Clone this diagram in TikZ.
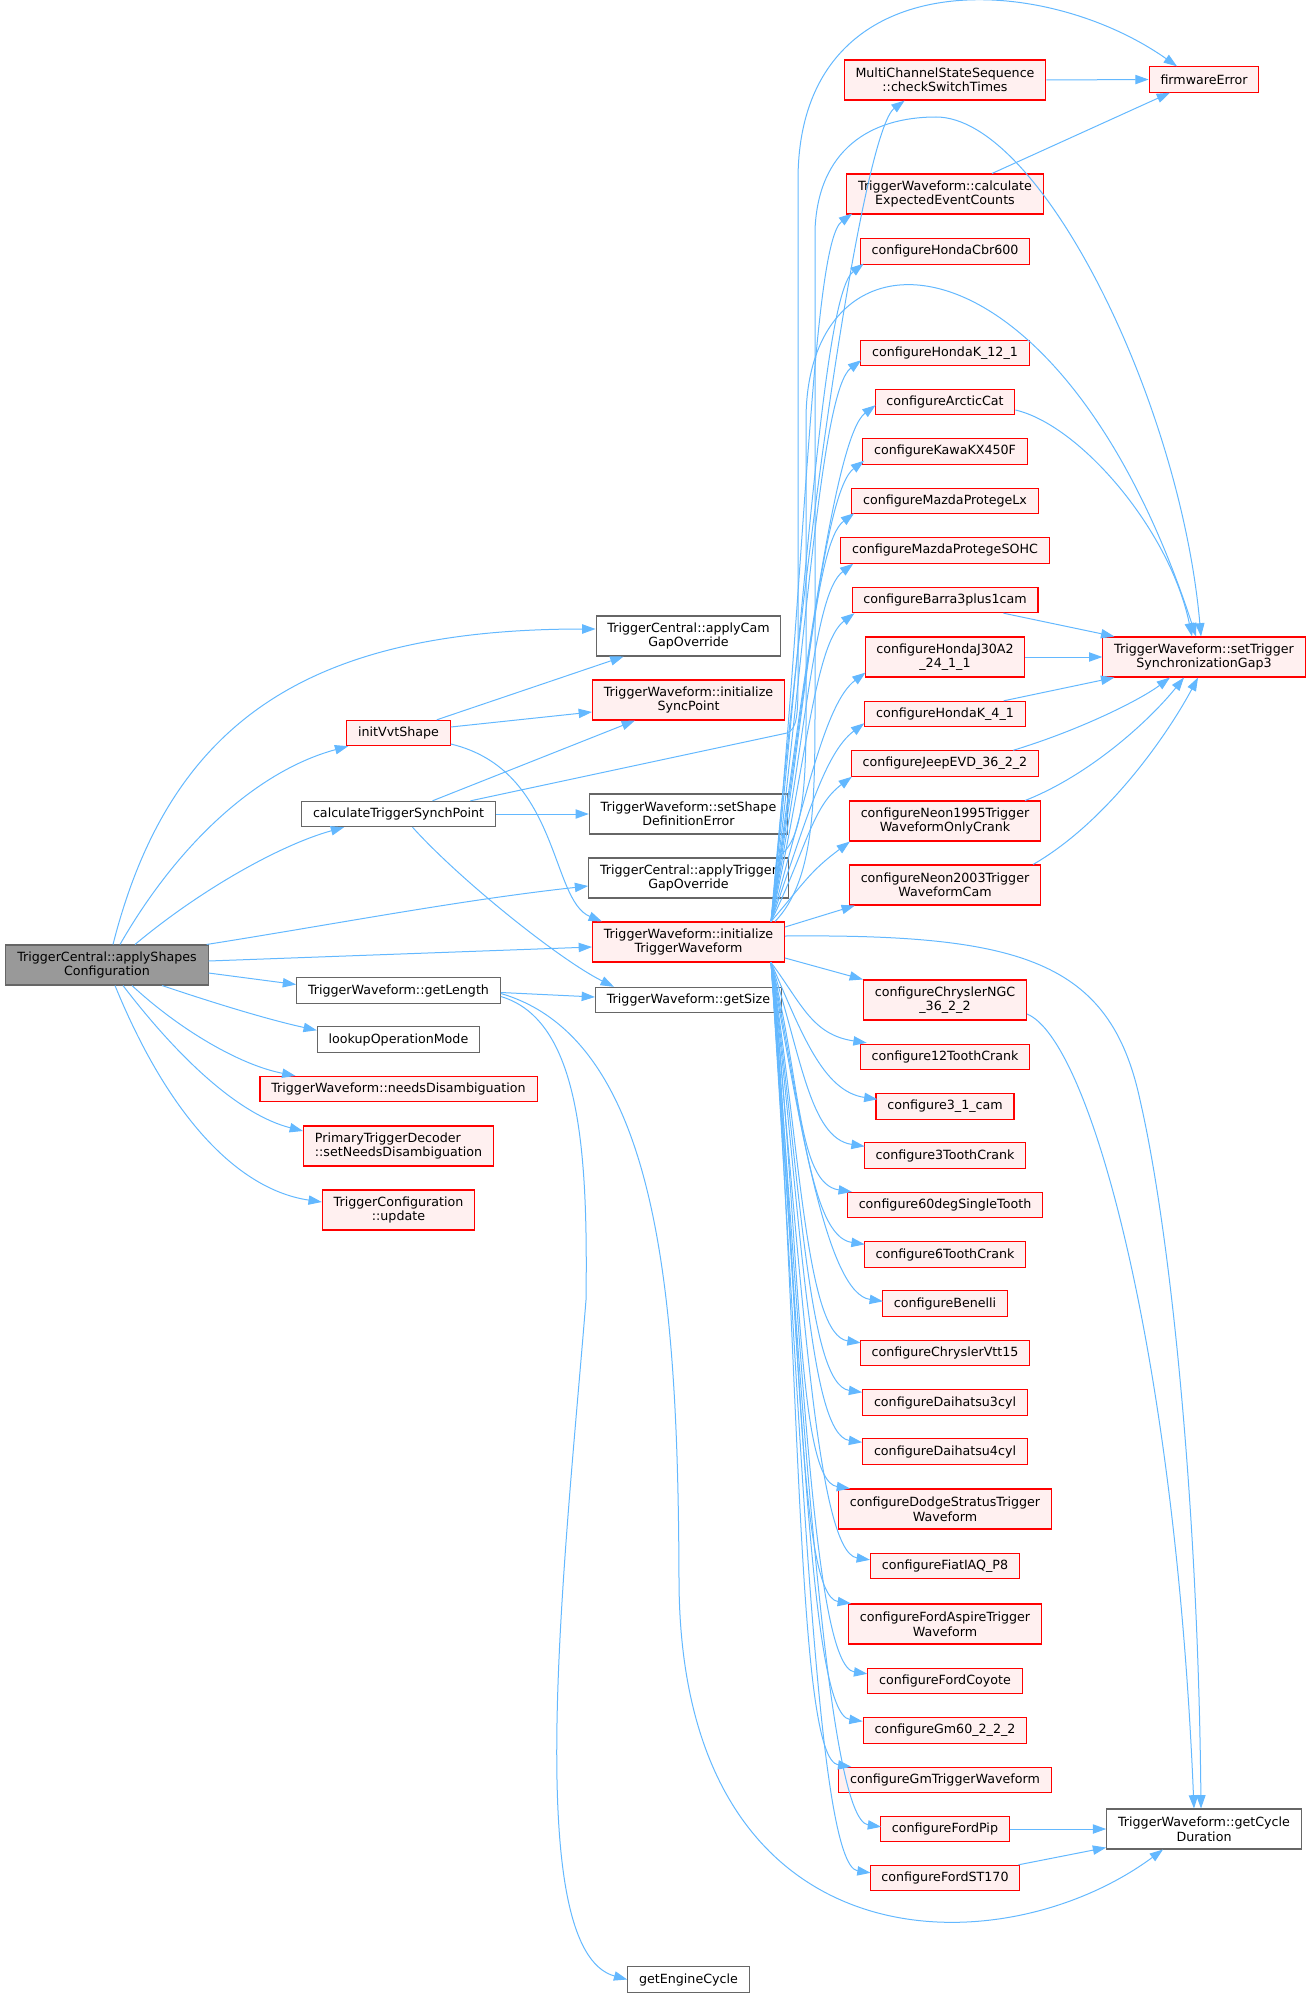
\documentclass[tikz,border=0pt]{standalone}
\usepackage{fontspec}
\setmainfont{DejaVu Sans}
\usetikzlibrary{arrows.meta,calc}
\definecolor{edgeblue}{HTML}{63B8FF}
\definecolor{redborder}{HTML}{FF0000}
\definecolor{redfill}{HTML}{FFF0F0}
\definecolor{greyborder}{HTML}{666666}
\definecolor{rootfill}{HTML}{999999}
\tikzset{
  fn/.style={draw=greyborder, fill=white, line width=0.8pt, inner xsep=8.5pt, inner ysep=2pt,
    minimum height=19pt, font=\fontsize{9.5}{10.9}\selectfont, align=center},
  fnred/.style={fn, draw=redborder, fill=redfill},
  fnroot/.style={fn, fill=rootfill},
  tall/.style={minimum height=30pt},
  calls/.style={draw=edgeblue, line width=0.75pt, -{Triangle[length=10pt,width=7pt]}}
}
\begin{document}
\begin{tikzpicture}[x=0.75pt,y=-0.75pt]
        \useasboundingbox (0,0) rectangle (1312,1998);
        % callers
        \node[fnroot,tall] (root) at (107,965) {TriggerCentral::applyShapes\\Configuration};
        \node[fnred] (initVvt) at (398.5,733) {initVvtShape};
        \node[fn] (calc) at (398.5,814) {calculateTriggerSynchPoint};
        \node[fn] (getLength) at (398.5,990.5) {TriggerWaveform::getLength};
        \node[fn] (lookup) at (398.5,1039.5) {lookupOperationMode};
        \node[fnred] (needsDis) at (398.5,1089) {TriggerWaveform::needsDisambiguation};
        \node[fnred,tall,align=left] (primary) at (398.5,1146) {PrimaryTriggerDecoder\\::setNeedsDisambiguation};
        \node[fnred,tall] (tconf) at (398.5,1210) {TriggerConfiguration\\::update};
        \node[fn,tall] (applyCam) at (688.5,636) {TriggerCentral::applyCam\\GapOverride};
        \node[fnred,tall] (initSync) at (688.5,700) {TriggerWaveform::initialize\\SyncPoint};
        \node[fn,tall] (setShape) at (688.5,814) {TriggerWaveform::setShape\\DefinitionError};
        \node[fn,tall] (applyTrig) at (688.5,878) {TriggerCentral::applyTrigger\\GapOverride};
        \node[fnred,tall] (initTW) at (688.5,942) {TriggerWaveform::initialize\\TriggerWaveform};
        \node[fn] (getSize) at (688.5,1000) {TriggerWaveform::getSize};
        \node[fn] (getEngine) at (688.5,1979.5) {getEngineCycle};
        % configure column
        \node[fnred,tall] (checkSwitch) at (945,80) {MultiChannelStateSequence\\::checkSwitchTimes};
        \node[fnred,tall] (calcExp) at (945,194) {TriggerWaveform::calculate\\ExpectedEventCounts};
        \node[fnred] (hondaCbr) at (945,251.5) {configureHondaCbr600};
        \node[fnred] (hondaK12) at (945,353) {configureHondaK\_12\_1};
        \node[fnred] (arctic) at (945,402) {configureArcticCat};
        \node[fnred] (kawa) at (945,451.5) {configureKawaKX450F};
        \node[fnred] (mazdaLx) at (945,501) {configureMazdaProtegeLx};
        \node[fnred] (mazdaSOHC) at (945,550.5) {configureMazdaProtegeSOHC};
        \node[fnred] (barra) at (945,600) {configureBarra3plus1cam};
        \node[fnred,tall] (hondaJ30) at (945,657) {configureHondaJ30A2\\\_24\_1\_1};
        \node[fnred] (hondaK41) at (945,714) {configureHondaK\_4\_1};
        \node[fnred] (jeep) at (945,763.5) {configureJeepEVD\_36\_2\_2};
        \node[fnred,tall] (neon1995) at (945,821) {configureNeon1995Trigger\\WaveformOnlyCrank};
        \node[fnred,tall] (neon2003) at (945,885) {configureNeon2003Trigger\\WaveformCam};
        \node[fnred,tall] (chryslerNGC) at (945,1000) {configureChryslerNGC\\\_36\_2\_2};
        \node[fnred] (t12) at (945,1057) {configure12ToothCrank};
        \node[fnred] (cam31) at (945,1106.5) {configure3\_1\_cam};
        \node[fnred] (t3) at (945,1155.5) {configure3ToothCrank};
        \node[fnred] (deg60) at (945,1205) {configure60degSingleTooth};
        \node[fnred] (t6) at (945,1254.5) {configure6ToothCrank};
        \node[fnred] (benelli) at (945,1303.5) {configureBenelli};
        \node[fnred] (vtt15) at (945,1353) {configureChryslerVtt15};
        \node[fnred] (daih3) at (945,1402.5) {configureDaihatsu3cyl};
        \node[fnred] (daih4) at (945,1451.5) {configureDaihatsu4cyl};
        \node[fnred,tall] (dodge) at (945,1509) {configureDodgeStratusTrigger\\Waveform};
        \node[fnred] (fiat) at (945,1566) {configureFiatIAQ\_P8};
        \node[fnred,tall] (aspire) at (945,1624) {configureFordAspireTrigger\\Waveform};
        \node[fnred] (coyote) at (945,1681) {configureFordCoyote};
        \node[fnred] (gm60) at (945,1730.5) {configureGm60\_2\_2\_2};
        \node[fnred] (gmTW) at (945,1780) {configureGmTriggerWaveform};
        \node[fnred] (fordPip) at (945,1829) {configureFordPip};
        \node[fnred] (st170) at (945,1878) {configureFordST170};
        % leaves
        \node[fnred] (fwError) at (1204,79.5) {firmwareError};
        \node[fnred,tall] (setGap3) at (1204,657) {TriggerWaveform::setTrigger\\SynchronizationGap3};
        \node[fn,tall] (cycleDur) at (1204,1829) {TriggerWaveform::getCycle\\Duration};
        % from the root
        \draw[calls] ($(root.north)+(6,0)$) .. controls (170,720) and (310,629) .. ($(applyCam.west)+(0,-7)$);
        \draw[calls] ($(root.north)+(13,0)$) .. controls (180,840) and (260,770) .. ($(initVvt.south west)+(2,0)$);
        \draw[calls] ($(root.north)+(28,0)$) .. controls (200,890) and (280,845) .. ($(calc.south west)+(43,0)$);
        \draw[calls] ($(root.north east)+(-2,0)$) .. controls (330,925) and (460,900) .. ($(applyTrig.west)+(0,8)$);
        \draw[calls] ($(root.east)+(0,-4)$) -- ($(initTW.west)+(0,5)$);
        \draw[calls] ($(root.east)+(0,8)$) -- ($(getLength.west)+(0,-6)$);
        \draw[calls] ($(root.south)+(55,0)$) .. controls (220,1005) and (270,1020) .. ($(lookup.north west)+(0,4)$);
        \draw[calls] ($(root.south)+(25,0)$) .. controls (180,1030) and (240,1065) .. ($(needsDis.north west)+(36,0)$);
        \draw[calls] ($(root.south)+(16,0)$) .. controls (180,1060) and (240,1115) .. ($(primary.west)+(0,-15)$);
        \draw[calls] ($(root.south)+(8,0)$) .. controls (170,1120) and (240,1190) .. ($(tconf.west)+(0,-8)$);
        % second level
        \draw[calls] ($(initVvt.north east)+(-14,0)$) -- ($(applyCam.south west)+(28,0)$);
        \draw[calls] ($(initVvt.east)+(0,-6)$) -- ($(initSync.west)+(0,12)$);
        \draw[calls] ($(initVvt.east)+(0,11)$) .. controls (560,770) and (550,900) .. ($(initTW.north west)+(10,0)$);
        \draw[calls] ($(calc.north)+(34,0)$) -- ($(initSync.south west)+(43,0)$);
        \draw[calls] ($(calc.north)+(72,0)$) -- (787,733) .. controls (797,729) and (798,715) .. (798,680)
            -- (798,180) .. controls (798,-40) and (1040,-30) .. ($(fwError.north)+(-27,0)$);
        \draw[calls] (calc.east) -- (setShape.west);
        \draw[calls] ($(calc.south)+(14,0)$) .. controls (460,880) and (560,960) .. ($(getSize.north west)+(19,0)$);
        \draw[calls] ($(applyTrig.north east)+(-12,0)$) .. controls (800,845) and (806,800) .. (806,720)
            -- (806,420) .. controls (806,210) and (1060,220) .. ($(setGap3.north)+(-8,0)$);
        \draw[calls] ($(getLength.east)+(0,2)$) -- ($(getSize.west)+(0,-3)$);
        \draw[calls] ($(getLength.east)+(0,3)$) .. controls (660,1040) and (678,1300) .. (679,1580)
            .. controls (680,1970) and (1000,1970) .. ($(cycleDur.south)+(-41,0)$);
        \draw[calls] ($(getLength.east)+(0,6)$) .. controls (580,1020) and (588,1150) .. (586,1300)
            .. controls (565,1560) and (520,1950) .. (getEngine.west);
        % initialize TriggerWaveform
        \draw[calls] ($(initTW.north east)+(-10,0)$) .. controls (815,880) and (815,800) .. (815,700)
            -- (815,230) .. controls (818,150) and (870,117) .. (936,117)
            .. controls (1040,117) and (1180,400) .. ($(setGap3.north)+(-3,0)$);
        \foreach \t/\dx/\dy/\r in {checkSwitch/61/0/411, calcExp/6/-1/355, hondaCbr/4/-1/330,
            hondaK12/1/-6/281, arctic/1/-10/258, kawa/2/-4/231, mazdaLx/3/-1/204, mazdaSOHC/13/0/180,
            barra/3/0/155, hondaJ30/1/-5/125, hondaK41/0/-4/100, jeep/1/0/72, neon1995/1/0/41}
            \draw[calls] ($(initTW.north east)+(-14,0)$) .. controls +(35,-\r) and +(-40,30) .. ($(\t.south west)+(\dx,\dy)$);
        \foreach \t/\dx/\dy/\r in {t12/7/-1/40, cam31/2/6/69, t3/1/4/92, deg60/5/0/115, t6/1/3/141,
            benelli/1/11/170, vtt15/1/3/190, daih3/0/3/215, daih4/0/4/240, dodge/12/0/263, fiat/0/7/299,
            aspire/3/0/320, coyote/0/6/356, gm60/0/4/380, gmTW/13/0/402, fordPip/1/11/433, st170/1/8/455}
            \draw[calls] ($(initTW.south east)+(-14,0)$) .. controls +(30,\r) and +(-55,-8) .. ($(\t.north west)+(\dx,\dy)$);
        \draw[calls] ($(initTW.east)+(0,-15)$) -- ($(neon2003.south west)+(6,0)$);
        \draw[calls] ($(initTW.east)+(0,16)$) -- (chryslerNGC.north west);
        \draw[calls] ($(initTW.east)+(0,-6)$) .. controls (1020,934) and (1110,960) .. (1140,1100)
            .. controls (1170,1230) and (1198,1500) .. ($(cycleDur.north)+(-3,0)$);
        % into the leaves
        \draw[calls] (checkSwitch.east) -- (fwError.west);
        \draw[calls] ($(calcExp.north)+(47,0)$) -- ($(fwError.south)+(-34,0)$);
        \draw[calls] ($(arctic.east)+(0,8)$) .. controls (1080,425) and (1170,530) .. ($(setGap3.north)+(-12,0)$);
        \draw[calls] ($(barra.south east)+(-35,0)$) -- ($(setGap3.north west)+(12,0)$);
        \draw[calls] (hondaJ30.east) -- (setGap3.west);
        \draw[calls] ($(hondaK41.north east)+(-22,0)$) -- ($(setGap3.south west)+(12,0)$);
        \draw[calls] ($(jeep.north east)+(-26,0)$) .. controls (1080,730) and (1140,700) .. ($(setGap3.south)+(-34,0)$);
        \draw[calls] ($(neon1995.north east)+(-16,0)$) .. controls (1090,775) and (1150,720) .. ($(setGap3.south)+(-20,0)$);
        \draw[calls] ($(neon2003.north east)+(-8,0)$) .. controls (1110,820) and (1170,730) .. ($(setGap3.south)+(-6,0)$);
        \draw[calls] ($(chryslerNGC.east)+(0,14)$) .. controls (1090,1040) and (1175,1350) .. ($(cycleDur.north)+(-10,0)$);
        \draw[calls] (fordPip.east) -- (cycleDur.west);
        \draw[calls] ($(st170.north east)+(-2,0)$) -- ($(cycleDur.south west)+(0,-2)$);
\end{tikzpicture}
\end{document}
